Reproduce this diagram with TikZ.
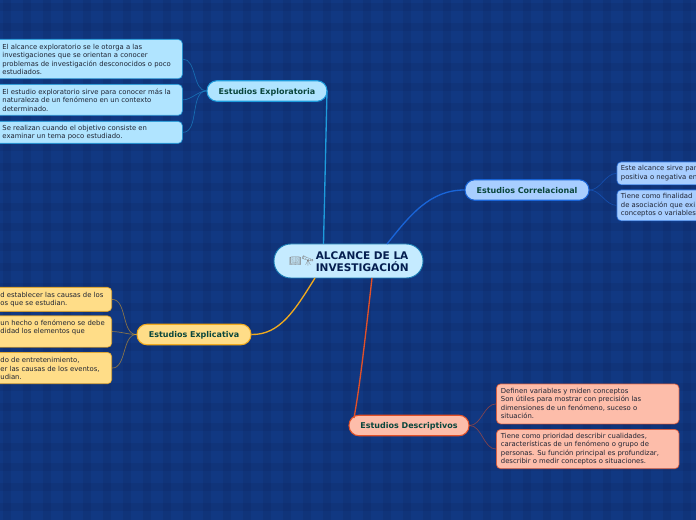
\documentclass[tikz,border=0pt]{standalone}
\usepackage{fontspec}
\setmainfont{DejaVu Sans}
\newfontfamily\emojifont{Noto Emoji}
\usetikzlibrary{positioning, calc}
\definecolor{PageBlue}{RGB}{17, 56, 130}
\definecolor{PlaidBlue}{RGB}{12, 36, 92}
\definecolor{TitleGreen}{RGB}{10, 70, 60}
\definecolor{RootInk}{RGB}{5, 30, 80}
\definecolor{LeafInk}{RGB}{30, 35, 50}
\definecolor{RootFill}{RGB}{197, 235, 255}
\definecolor{RootLine}{RGB}{25, 125, 180}
\definecolor{ExpFill}{RGB}{176, 228, 255}
\definecolor{ExpLine}{RGB}{30, 155, 220}
\definecolor{CauFill}{RGB}{255, 221, 136}
\definecolor{CauLine}{RGB}{240, 170, 30}
\definecolor{CorFill}{RGB}{168, 206, 255}
\definecolor{CorLine}{RGB}{25, 100, 215}
\definecolor{DesFill}{RGB}{253, 189, 170}
\definecolor{DesLine}{RGB}{225, 80, 40}

\begin{document}
\begin{tikzpicture}[
    x=0.75pt, y=-0.75pt,
    root/.style={draw=RootLine, fill=RootFill, line width=0.7pt, rounded corners=12.5pt, inner sep=0pt,
      minimum width=111.75pt, minimum height=25.5pt},
    branch/.style={rounded corners=7.5pt, line width=0.8pt, inner sep=0pt, minimum height=15.4pt,
      text height=4.6pt, text depth=0pt,
      font=\fontsize{6pt}{7pt}\selectfont\bfseries, text=TitleGreen},
    leaf/.style={rounded corners=3.2pt, line width=0.6pt, inner sep=0pt, anchor=north west,
      font=\fontsize{5.15pt}{6.3pt}\selectfont, text=LeafInk, align=left},
    leafbox/.style={leaf, draw opacity=0.75},
    link/.style={line width=1pt},
    twig/.style={line width=0.5pt, opacity=0.55}
  ]
    \useasboundingbox (0,0) rectangle (696,520);
    \clip (0,0) rectangle (696,520);

    % Background
    \fill[PageBlue] (0,0) rectangle (696,520);
    \foreach \i in {0,...,34} {
      \fill[PlaidBlue, opacity=0.2] (\i*20+3,0) rectangle (\i*20+11,520);
    }
    \foreach \j in {0,...,26} {
      \fill[PlaidBlue, opacity=0.2] (0,\j*20+3) rectangle (696,\j*20+11);
    }

    % Centre
    \node[root] (root) at (348.5,261) {};
    \node[anchor=west, inner sep=0pt, align=left, text=RootInk, font=\fontsize{7.9pt}{9pt}\selectfont\bfseries]
      (rootlabel) at (315.5,261.5) {ALCANCE DE LA\\INVESTIGACIÓN};
    \node[anchor=east, inner sep=0pt, text=black!50, font=\fontsize{7.4pt}{8pt}\emojifont]
      (rooticon) at (314.5,261) {📖🔭};

    % Branches
    \node[branch, draw=ExpLine, fill=ExpFill, minimum width=90pt] (exp) at (267,91) {Estudios Exploratoria};
    \node[branch, draw=CauLine, fill=CauFill, minimum width=85.5pt] (cau) at (194,334.5) {Estudios Explicativa};
    \node[branch, draw=CorLine, fill=CorFill, minimum width=93pt] (cor) at (527,190) {Estudios Correlacional};
    \node[branch, draw=DesLine, fill=DesFill, minimum width=90pt] (des) at (409,425.5) {Estudios Descriptivos};

    % Connections: centre to branches
    \draw[link, ExpLine] (323.5,244) coordinate (rootn) -- (327,91) coordinate (expe);
    \draw[link, CauLine] (315,278) coordinate (roots) .. controls (295,310) and (280,335) .. (cau.east);
    \draw[link, CorLine] (387,244) coordinate (rootne) .. controls (410,215) and (430,190) .. (cor.west);
    \draw[link, DesLine] (372,278) coordinate (rootse) .. controls (365,340) and (360,385) .. (354,418) coordinate (desw);

    % Leaves: exploratoria
    \node[leafbox, draw=ExpLine, fill=ExpFill, minimum width=141pt, minimum height=29.5pt] (exp1) at (-6,39) {};
    \node[leaf, anchor=west] (exp1t) at (2,59.5)
      {El alcance exploratorio se le otorga a las\\investigaciones que se orientan a conocer\\problemas de investigación desconocidos o poco\\estudiados.};
    \node[leafbox, draw=ExpLine, fill=ExpFill, minimum width=141pt, minimum height=23.2pt] (exp2) at (-6,84) {};
    \node[leaf, anchor=west] (exp2t) at (2,100)
      {El estudio exploratorio sirve para conocer más la\\naturaleza de un fenómeno en un contexto\\determinado.};
    \node[leafbox, draw=ExpLine, fill=ExpFill, minimum width=141pt, minimum height=16.5pt] (exp3) at (-6,121) {};
    \node[leaf, anchor=west] (exp3t) at (2,132.5)
      {Se realizan cuando el objetivo consiste en\\examinar un tema poco estudiado.};

    % Leaves: explicativa
    \node[leafbox, draw=CauLine, fill=CauFill, minimum width=88pt, minimum height=18pt] (cau1) at (-6,287) {};
    \node[leaf, anchor=west] (cau1t) at (0,299.5) {d establecer las causas de los\\os que se estudian.};
    \node[leafbox, draw=CauLine, fill=CauFill, minimum width=88pt, minimum height=23.5pt] (cau2) at (-6,315.5) {};
    \node[leaf, anchor=west] (cau2t) at (0,327.5) {un hecho o fenómeno se debe\\didad los elementos que};
    \node[leafbox, draw=CauLine, fill=CauFill, minimum width=88pt, minimum height=23.5pt] (cau3) at (-6,352) {};
    \node[leaf, anchor=west] (cau3t) at (0,368.5) {do de entretenimiento,\\er las causas de los eventos,\\udian.};

    % Leaves: correlacional
    \node[leafbox, draw=CorLine, fill=CorFill, minimum width=70pt, minimum height=17.2pt] (cor1) at (616.5,161.5) {};
    \node[leaf, anchor=west] (cor1t) at (620.5,173) {Este alcance sirve par\\positiva o negativa en};
    \node[leafbox, draw=CorLine, fill=CorFill, minimum width=70pt, minimum height=23.2pt] (cor2) at (616.5,189.5) {};
    \node[leaf, anchor=west] (cor2t) at (620.5,205.5) {Tiene como finalidad\\de asociación que exi\\conceptos o variables};

    % Leaves: descriptivos
    \node[leafbox, draw=DesLine, fill=DesFill, minimum width=137pt, minimum height=30pt] (des1) at (496,383.5) {};
    \node[leaf, anchor=west] (des1t) at (500.5,403.5)
      {Definen variables y miden conceptos\\Son útiles para mostrar con precisión las\\dimensiones de un fenómeno, suceso o\\situación.};
    \node[leafbox, draw=DesLine, fill=DesFill, minimum width=137pt, minimum height=29.5pt] (des2) at (496,429) {};
    \node[leaf, anchor=west] (des2t) at (500.5,449)
      {Tiene como prioridad describir cualidades,\\características de un fenómeno o grupo de\\personas. Su función principal es profundizar,\\describir o medir conceptos o situaciones.};

    % Connections: branches to leaves
    \foreach \leaf in {exp1,exp2,exp3} {
      \draw[twig, ExpLine] (exp.west) to[out=180, in=0, looseness=0.9] (\leaf.east);
    }
    \foreach \leaf in {cau1,cau2,cau3} {
      \draw[twig, CauLine] (cau.west) to[out=180, in=0, looseness=0.9] (\leaf.east);
    }
    \foreach \leaf in {cor1,cor2} {
      \draw[twig, CorLine] (cor.east) to[out=0, in=180, looseness=0.9] (\leaf.west);
    }
    \foreach \leaf in {des1,des2} {
      \draw[twig, DesLine] (des.east) to[out=0, in=180, looseness=0.9] (\leaf.west);
    }
\end{tikzpicture}
\end{document}
